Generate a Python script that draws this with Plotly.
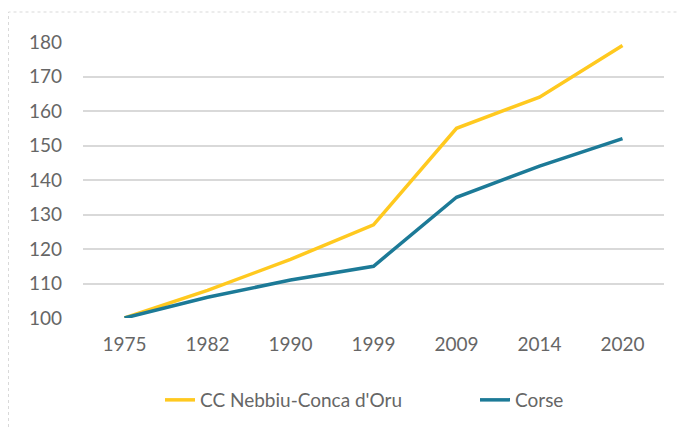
import plotly.graph_objects as go

years = ["1975", "1982", "1990", "1999", "2009", "2014", "2020"]
nebbiu = [100, 108, 117, 127, 155, 164, 179]
corse = [100, 106, 111, 115, 135, 144, 152]
series_names = ["CC Nebbiu-Conca d'Oru", "Corse"]
y_ticks = [100, 110, 120, 130, 140, 150, 160, 170, 180]

# page has an 8px body margin
W, H = 679, 422
L, R, T, B = 75, 23, 34, 112
PW, PH = W - L - R, H - T - B

fig = go.Figure()
fig.add_trace(go.Scatter(x=years, y=nebbiu, name=series_names[0], mode="lines",
                         line=dict(color="#FFC91F", width=3.5), legend="legend"))
fig.add_trace(go.Scatter(x=years, y=corse, name=series_names[1], mode="lines",
                         line=dict(color="#1C7A97", width=3.5), legend="legend2"))

font = dict(family="Lato, 'Open Sans', sans-serif", size=19, color="#666666")
leg_y = (PH - (392 - T)) / PH

fig.update_layout(
    width=W, height=H,
    margin=dict(l=L, r=R, t=T, b=B, pad=0, autoexpand=False),
    paper_bgcolor="white", plot_bgcolor="white",
    font=font,
    showlegend=True,
    legend=dict(orientation="h", x=(152 - L) / PW, xanchor="left", y=leg_y, yanchor="middle",
                font=font, itemwidth=30),
    legend2=dict(orientation="h", x=(467 - L) / PW, xanchor="left", y=leg_y, yanchor="middle",
                 font=font, itemwidth=30),
    xaxis=dict(type="category", range=[-0.5, 6.5], showgrid=False, showline=False, zeroline=False,
               ticks="", tickfont=font, ticklabelstandoff=13),
    yaxis=dict(range=[100, 180], tickvals=y_ticks, showgrid=True,
               gridcolor="#D9D9D9", gridwidth=2, zeroline=False, showline=False,
               ticks="", tickfont=font, ticklabelstandoff=20),
    shapes=[dict(type="rect", xref="paper", yref="paper",
                 x0=(0.5 - L) / PW, x1=(W + 5 - L) / PW,
                 y0=-(H + 5 - (H - B)) / PH, y1=1 + (T - 4) / PH,
                 line=dict(color="#D9D9D9", width=1, dash="dot"), layer="below")],
)

fig.write_html("out.html")
